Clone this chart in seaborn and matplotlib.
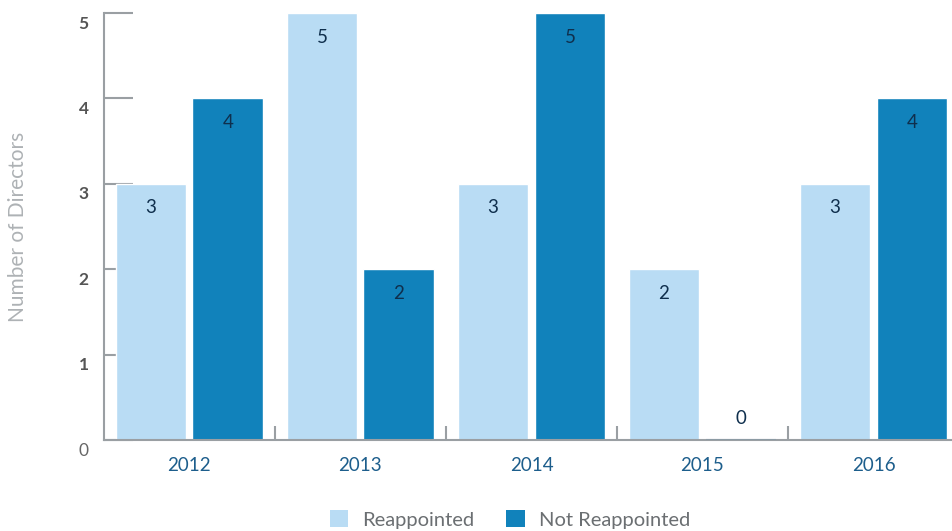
import matplotlib
matplotlib.use("Agg")
import matplotlib.pyplot as plt
import matplotlib.transforms as mtransforms
from matplotlib.patches import Patch
import seaborn as sns
import pandas as pd

years = ["2012", "2013", "2014", "2015", "2016"]
reappointed = [3, 5, 3, 2, 3]
not_reappointed = [4, 2, 5, 0, 4]
series_names = ["Reappointed", "Not Reappointed"]
colors = ["#b9dcf4", "#1182bb"]

df = pd.DataFrame({
    "year": years * 2,
    "count": reappointed + not_reappointed,
    "status": [series_names[0]] * len(years) + [series_names[1]] * len(years),
})

sns.set_style("white")
plt.rcParams["font.family"] = ["Lato", "DejaVu Sans"]

fig = plt.figure(figsize=(9.53, 5.31), dpi=100)
ax = fig.add_axes([0.109, 0.171, 0.891, 0.8045])

sns.barplot(data=df, x="year", y="count", hue="status", palette=colors,
            width=0.9, gap=0.08, saturation=1, legend=False, ax=ax, zorder=2)

ax.set_xlim(-0.5, 4.465)
ax.set_ylim(0, 5)

spine_color = "#9a9fa3"
for s in ["top", "right"]:
    ax.spines[s].set_visible(False)
for s in ["left", "bottom"]:
    ax.spines[s].set_color(spine_color)
    ax.spines[s].set_linewidth(1.5)
    ax.spines[s].set_zorder(3)

# y ticks
ax.set_yticks(range(6))
ax.tick_params(axis="y", left=True, direction="in", length=21, width=1.5, color=spine_color, pad=11)
offset = mtransforms.ScaledTranslation(0, -9 / 100, fig.dpi_scale_trans)
for i, lab in enumerate(ax.get_yticklabels()):
    lab.set_transform(lab.get_transform() + offset)
    lab.set_fontsize(12.5)
    if i == 0:
        lab.set_color("#666666")
    else:
        lab.set_fontweight("bold")
        lab.set_color("#555555")

# x ticks: labels at centers, small marks at group boundaries
ax.set_xticks(range(len(years)))
ax.set_xticklabels(years, fontsize=13.5, color="#1d5e8c")
ax.tick_params(axis="x", which="major", length=0, pad=12)
ax.set_xticks([i + 0.5 for i in range(len(years) - 1)], minor=True)
ax.tick_params(axis="x", which="minor", bottom=True, direction="in", length=10, width=1.5, color=spine_color)

ax.set_xlabel("")
ax.set_ylabel("Number of Directors", fontsize=15, color="#aeb2b5", labelpad=36)

# value labels
for container in ax.containers:
    for bar in container:
        h = bar.get_height()
        cx = bar.get_x() + bar.get_width() / 2
        dy = -24 if h > 0 else 22
        if h == 0:
            bar.set_edgecolor("#8c9ba4")
            bar.set_linewidth(1.5)
            bar.set_zorder(4)
        ax.annotate(f"{int(h)}", (cx, h), xytext=(0, dy), textcoords="offset pixels",
                    ha="center", va="center", fontsize=13.5, color="#0f2f4d", zorder=4)

handles = [Patch(facecolor=c, edgecolor="none") for c in colors]
fig.legend(handles, series_names, loc="lower center", bbox_to_anchor=(0.535, -0.03), ncol=2,
           frameon=False, fontsize=14.5, labelcolor="#6b6f72", handlelength=0.9, handleheight=0.9,
           columnspacing=1.6, handletextpad=0.7)

fig.savefig("out.png", dpi=100)
